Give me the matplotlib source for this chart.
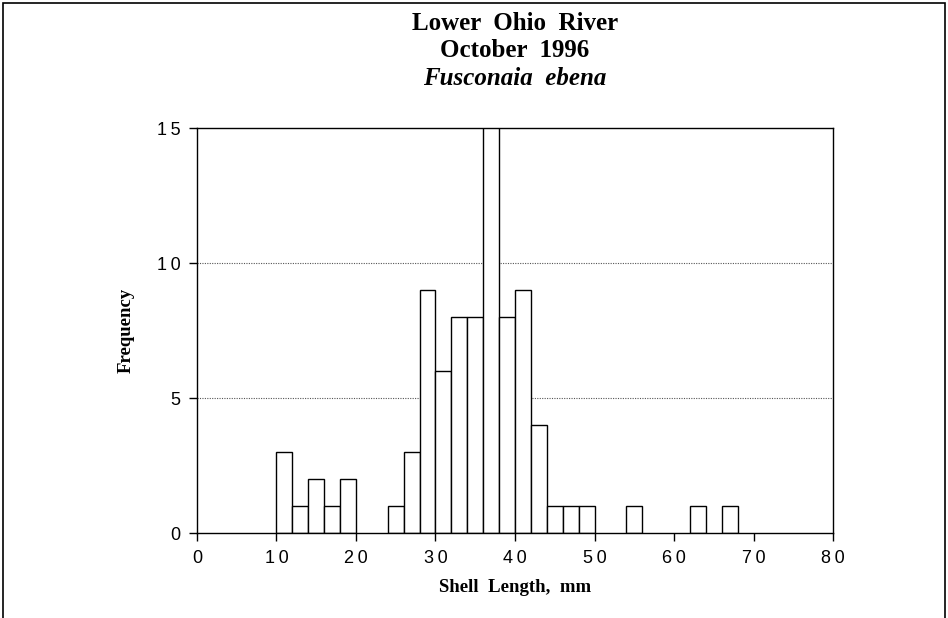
import numpy as np
import matplotlib
matplotlib.use("Agg")
from matplotlib import pyplot as plt
from matplotlib.patches import Rectangle

# Datos del histograma (clase = limite inferior, ancho 2 mm)
clases = [10, 12, 14, 16, 18, 24, 26, 28, 30, 32, 34, 36, 38, 40, 42, 44, 46, 48, 54, 62, 66]
frecuencias = [3, 1, 2, 1, 2, 1, 3, 9, 6, 8, 8, 16, 8, 9, 4, 1, 1, 1, 1, 1, 1]
ancho = 2

xticks = [0, 10, 20, 30, 40, 50, 60, 70, 80]
yticks = [0, 5, 10, 15]

def espaciar(v):
    # etiquetas con los digitos separados, como en el original
    return "\u2009".join(str(v))

fig = plt.figure(figsize=(9.48, 6.18), dpi=100)
ax = fig.add_axes([0.2078, 0.1375, 0.6709, 0.6553])

# Lineas de cuadricula punteadas (detras de las barras)
for y in [5, 10]:
    ax.axhline(y, color="#555555", lw=0.8, ls=(0, (1, 1.2)), zorder=1)

ax.bar(clases, frecuencias, width=ancho, align="edge", facecolor="white",
       edgecolor="black", linewidth=1.0, zorder=2)

ax.set_xlim(0, 80)
ax.set_ylim(0, 15)
ax.set_xticks(xticks)
ax.set_xticklabels([espaciar(v) for v in xticks])
ax.set_yticks(yticks)
ax.set_yticklabels([espaciar(v) for v in yticks])
ax.tick_params(direction="out", length=6, width=1, labelsize=13, pad=6)
for lab in ax.get_xticklabels() + ax.get_yticklabels():
    lab.set_family(["Liberation Sans", "DejaVu Sans"])
for s in ax.spines.values():
    s.set_linewidth(1.0)

ax.set_xlabel("Shell  Length,  mm", family="Liberation Serif", fontweight="bold",
              fontsize=13.5, labelpad=9)
ax.set_ylabel("Frequency", family="Liberation Serif", fontweight="bold",
              fontsize=13.5, labelpad=16)

# Titulos
fig.text(0.5432, 0.962, "Lower  Ohio  River", ha="center", va="center",
         family="Liberation Serif", fontweight="bold", fontsize=18)
fig.text(0.5432, 0.918, "October  1996", ha="center", va="center",
         family="Liberation Serif", fontweight="bold", fontsize=18)
fig.text(0.5432, 0.873, "Fusconaia  ebena", ha="center", va="center",
         family="Liberation Serif", fontweight="bold", style="italic", fontsize=18)

# Marco de la figura
fig.patches.append(Rectangle((0.003, -0.01), 0.994, 1.005, transform=fig.transFigure,
                             fill=False, edgecolor="black", lw=1.2))

fig.savefig("out.png", dpi=100)
